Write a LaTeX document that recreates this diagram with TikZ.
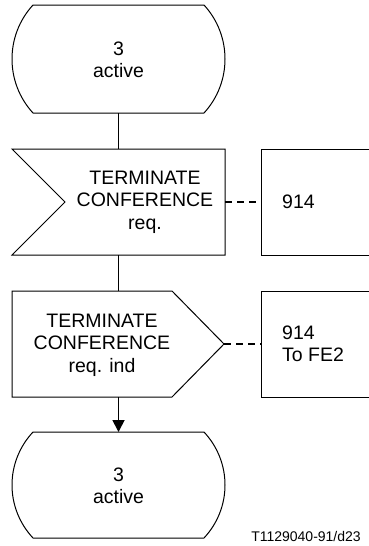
\documentclass[tikz,border=0pt]{standalone}
\usepackage{fontspec}
\setmainfont{Liberation Sans}
\usetikzlibrary{arrows.meta}
\begin{document}
\begin{tikzpicture}[x=1pt,y=-1pt,
  shapeline/.style={line width=1pt,line join=miter},
  conn/.style={line width=1.8pt},
  dashconn/.style={line width=1.5pt,dash pattern=on 7pt off 5pt},
  txt/.style={align=center,inner sep=0pt,font=\fontsize{19.5}{22.5}\selectfont},
  ltxt/.style={align=left,inner sep=0pt,anchor=west,font=\fontsize{19.5}{22.5}\selectfont}]
\useasboundingbox (0,0) rectangle (369,546);
% top state
\draw[shapeline] (33,5) -- (204,5) .. controls (232,35.5) and (232,82.5) .. (204,113)
  -- (33,113) .. controls (5,82.5) and (5,35.5) .. (33,5) -- cycle;
\node[txt] (s1) at (118.5,60) {3\\active};
\coordinate (s1b) at (118.5,113);
% input
\draw[shapeline] (12,149) -- (225,149) -- (225,255) -- (12,255) -- (65,202) -- cycle;
\node[txt] (in1) at (145,202) {TERMINATE\\CONFERENCE\\req.};
\coordinate (in1t) at (118.5,149);
\coordinate (in1b) at (118.5,255);
\coordinate (in1r) at (225,202);
% comment box 1
\draw[shapeline] (369,149) -- (261,149) -- (261,255) -- (369,255);
\coordinate (c1l) at (261,202);
\node[ltxt] (c1) at (282,202) {914};
% output
\draw[shapeline] (12,291) -- (172,291) -- (224,344) -- (172,397) -- (12,397) -- cycle;
\node[txt] (out1) at (102,345) {TERMINATE\\CONFERENCE\\req. ind};
\coordinate (out1t) at (118.5,291);
\coordinate (out1b) at (118.5,397);
\coordinate (out1r) at (224,344);
% comment box 2
\draw[shapeline] (369,291) -- (261,291) -- (261,397) -- (369,397);
\coordinate (c2l) at (261,344);
\node[ltxt] (c2) at (282,344) {914\\To FE2};
% bottom state
\draw[shapeline] (33,432) -- (204,432) .. controls (232,462) and (232,508) .. (204,538)
  -- (33,538) .. controls (5,508) and (5,462) .. (33,432) -- cycle;
\node[txt] (s2) at (118.5,486) {3\\active};
\coordinate (s2t) at (118.5,432);
% connectors
\draw[conn] (s1b) -- (in1t);
\draw[conn] (in1b) -- (out1t);
\draw[conn,-{Triangle[width=12pt,length=12pt]}] (out1b) -- (s2t);
\draw[dashconn] (in1r) -- (c1l);
\draw[dashconn] (out1r) -- (c2l);
% label
\node[inner sep=0pt,font=\fontsize{14}{16}\selectfont] (lbl) at (306,536) {T1129040-91/d23};
\end{tikzpicture}
\end{document}
